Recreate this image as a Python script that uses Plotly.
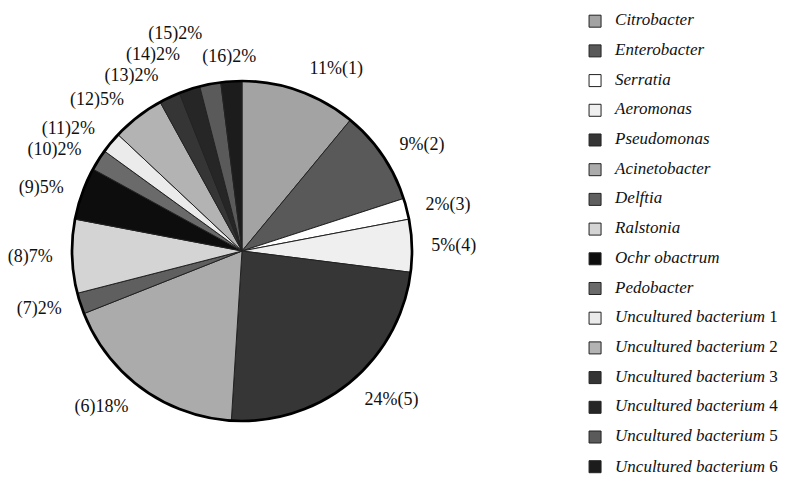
import plotly.graph_objects as go

names = ["Citrobacter", "Enterobacter", "Serratia", "Aeromonas", "Pseudomonas",
         "Acinetobacter", "Delftia", "Ralstonia", "Ochr obactrum", "Pedobacter",
         "Uncultured bacterium 1", "Uncultured bacterium 2", "Uncultured bacterium 3",
         "Uncultured bacterium 4", "Uncultured bacterium 5", "Uncultured bacterium 6"]
values = [11, 9, 2, 5, 24, 18, 2, 7, 5, 2, 2, 5, 2, 2, 2, 2]
colors = ["#a3a3a3", "#595959", "#ffffff", "#efefef", "#363636",
          "#ababab", "#5f5f5f", "#d4d4d4", "#0d0d0d", "#6a6a6a",
          "#ebebeb", "#b3b3b3", "#353535", "#262626", "#5a5a5a", "#1c1c1c"]

# the page body adds an 8px margin, so the figure is 8px smaller than the window
W, H = 780, 475
CX, CY = 234, 243      # pie centre (px, figure coords)
R_PIE, R_TXT = 170, 184
LAST_LABEL_SHIFT = 31  # horizontal offset of the helper pie carrying the last label


def dom(r, dx=0):
    c = CX + dx
    return dict(x=[(c - r) / W, (c + r) / W], y=[1 - (CY + r) / H, 1 - (CY - r) / H])


def legend_label(n, last):
    if n.startswith("Uncultured"):
        base, num = n.rsplit(" ", 1)
        inner = f"<i>{base}</i> {num}"
    else:
        inner = f"<i>{n}</i>"
    s = f"<span style='font-size:17px'>{inner}</span>"
    return s if last else s + "<br> "


labels = [legend_label(n, i == len(names) - 1) for i, n in enumerate(names)]
TXT_STYLE = "color:#111111;fill-opacity:1"
texts = [f"<span style='{TXT_STYLE}'>{v}%({i+1})</span>" if i < 5
         else f"<span style='{TXT_STYLE}'>({i+1}){v}%</span>"
         for i, v in enumerate(values)]
last = len(values) - 1
# labels are laid out by two transparent pies so the last one is not stacked on the others
texts_a = [t if i != last else "" for i, t in enumerate(texts)]
texts_b = [t if i == last else "" for i, t in enumerate(texts)]

fig = go.Figure()
fig.add_trace(go.Pie(
    labels=labels, values=values, textinfo="none", sort=False, direction="clockwise",
    marker=dict(colors=colors, line=dict(color="#222222", width=1)),
    domain=dom(R_PIE), hoverinfo="label+percent",
))
fig.add_trace(go.Pie(
    values=[sum(values)], labels=["outline"], textinfo="none", sort=False,
    marker=dict(colors=["rgba(0,0,0,0)"], line=dict(color="#000000", width=2.7)),
    domain=dom(R_PIE), showlegend=False, hoverinfo="skip",
))
for txt, dx in ((texts_a, 0), (texts_b, LAST_LABEL_SHIFT)):
    fig.add_trace(go.Pie(
        labels=[f"t{i}" for i in range(len(values))], values=values, text=txt,
        textinfo="text", textposition="outside", sort=False, direction="clockwise",
        marker=dict(colors=["rgba(0,0,0,0)"] * len(values), line=dict(width=0)),
        outsidetextfont=dict(family="Liberation Serif", size=18, color="rgba(0,0,0,0)"),
        domain=dom(R_TXT, dx), showlegend=False, hoverinfo="skip",
    ))

fig.update_layout(
    width=W, height=H,
    margin=dict(l=0, r=0, t=0, b=0, autoexpand=False),
    paper_bgcolor="white", plot_bgcolor="white",
    showlegend=True,
    legend=dict(x=0.727, xanchor="left", y=1.0, yanchor="top",
                font=dict(family="Liberation Serif", size=10.27, color="#111111"),
                valign="top", bgcolor="rgba(0,0,0,0)", itemclick=False),
)
fig.write_html("out.html")
